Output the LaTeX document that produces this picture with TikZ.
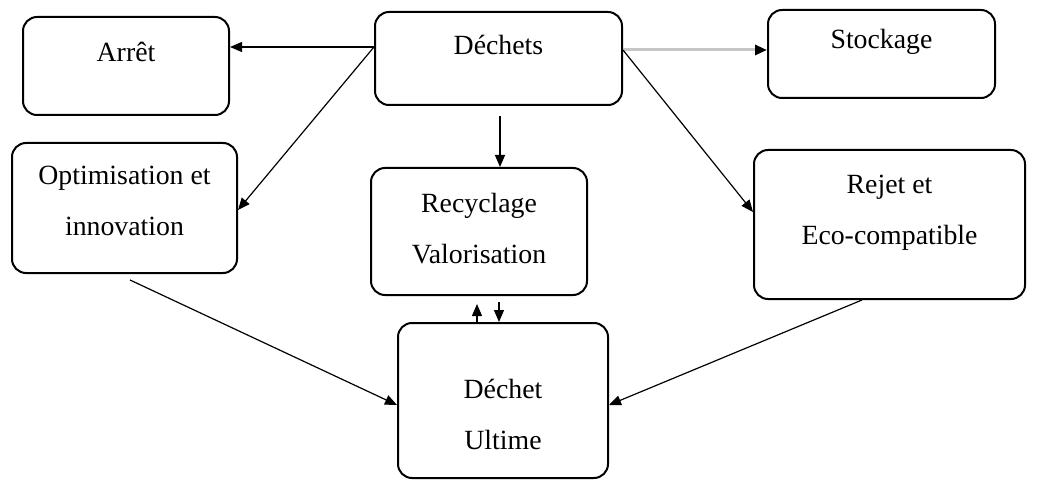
\documentclass[tikz,border=0pt]{standalone}
\usepackage{fontspec}
\setmainfont{Liberation Serif}
\usetikzlibrary{arrows.meta}
\begin{document}
\begin{tikzpicture}[x=0.5pt, y=-0.5pt,
    box/.style={draw, line width=1pt, rounded corners=7pt, inner sep=0pt},
    arr/.style={line width=0.6pt, -{Triangle[length=6pt, width=5pt]}},
    every label/.style={align=center, font=\fontsize{13.9}{25.5}\selectfont, inner sep=0pt}]
            \useasboundingbox (0,0) rectangle (1039,481);
            % boxes
            \node[box, minimum width=103pt, minimum height=49pt, label={[yshift=7pt]center:Arrêt}] (arret) at (126,66) {};
            \node[box, minimum width=123.5pt, minimum height=46.5pt, label={[yshift=6.75pt]center:Déchets}] (dechets) at (498.5,58.5) {};
            \node[box, minimum width=113.5pt, minimum height=44pt, label={[yshift=6pt]center:Stockage}] (stockage) at (881.5,54) {};
            \node[box, minimum width=112.5pt, minimum height=65pt, label={[yshift=3.5pt]center:Optimisation et\\innovation}] (optim) at (124.5,208) {};
            \node[box, minimum width=108pt, minimum height=63.5pt, label={[yshift=1.25pt]center:Recyclage\\Valorisation}] (recyc) at (479,231.5) {};
            \node[box, minimum width=135.5pt, minimum height=74.5pt, label={[yshift=6pt]center:Rejet et\\Eco-compatible}] (rejet) at (889.5,224.5) {};
            \node[box, minimum width=105pt, minimum height=77.5pt, label={[yshift=-6.75pt]center:Déchet\\Ultime}] (ultime) at (503,400.5) {};
            % arrows from the waste box
            \draw[arr] ([yshift=5.75pt]dechets.west) -- ([yshift=9.5pt]arret.east);
            \draw[arr] ([yshift=5.75pt]dechets.west) -- ([yshift=-1pt]optim.east);
            \draw[arr, line width=1.5pt, draw=gray!45, -{Triangle[length=6pt, width=5pt, black]}] ([yshift=4.25pt]dechets.east) -- ([yshift=2pt]stockage.west);
            \draw[arr] ([yshift=4.25pt]dechets.east) -- ([yshift=6.25pt]rejet.west);
            \draw[arr] ([xshift=0.75pt, yshift=-5pt]dechets.south) -- ([xshift=10.5pt]recyc.north);
            % arrows to the final waste
            \draw[arr] ([xshift=2.75pt, yshift=-3pt]optim.south) -- ([yshift=-2.25pt]ultime.west);
            \draw[arr] ([xshift=-13.75pt]rejet.south) -- ([yshift=-2.25pt]ultime.east);
            \draw[arr] ([xshift=-13pt]ultime.north) -- ([xshift=-1pt, yshift=-4pt]recyc.south);
            \draw[arr] ([xshift=10pt, yshift=-3pt]recyc.south) -- ([xshift=-2pt]ultime.north);
	\end{tikzpicture}
\end{document}
